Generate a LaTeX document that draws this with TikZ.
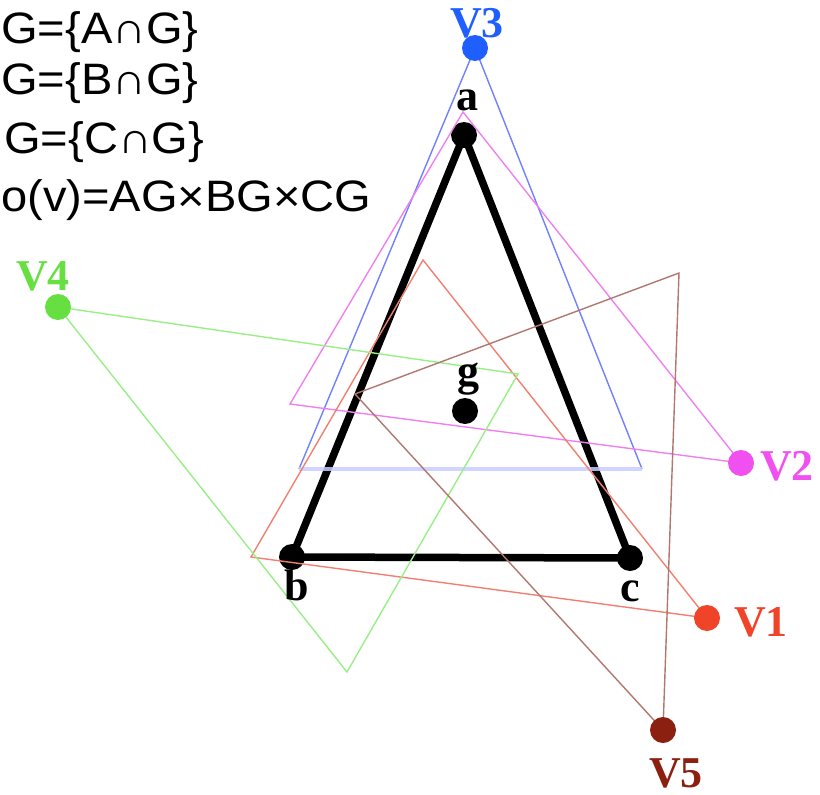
\documentclass[tikz,border=0pt]{standalone}
\usepackage{fontspec}
\setmainfont{Liberation Serif}
\newfontfamily\labsans{Liberation Sans}
\definecolor{vblue}{HTML}{1F5FFF}
\definecolor{lblue}{HTML}{7080FF}
\definecolor{pblue}{HTML}{C8CCFF}
\definecolor{vmag}{HTML}{F050F0}
\definecolor{lmag}{HTML}{F080F0}
\definecolor{vred}{HTML}{F04428}
\definecolor{lred}{HTML}{F08070}
\definecolor{vgreen}{HTML}{66E040}
\definecolor{lgreen}{HTML}{99EE88}
\definecolor{vbrown}{HTML}{8C2010}
\definecolor{lbrown}{HTML}{B07870}
\begin{document}
\begin{tikzpicture}[x=1pt,y=-1pt,
  dot/.style={circle,fill,inner sep=0pt,minimum size=26pt},
  lab/.style={font=\fontsize{44}{44}\selectfont\bfseries,inner sep=0pt,anchor=base},
  formula/.style={font=\labsans\fontsize{44}{44}\selectfont,inner sep=0pt,anchor=base west,xscale=1.07},
  thinline/.style={line width=1.4pt}]
\useasboundingbox (0,0) rectangle (820,795);
% coordinates
\coordinate (a) at (464,135);
\coordinate (b) at (292,557);
\coordinate (c) at (630,558);
\coordinate (g) at (465,411);
\coordinate (v3) at (475,48);
\coordinate (bl) at (299,469);
\coordinate (br) at (642,469);
\coordinate (m1) at (463,112);
\coordinate (m2) at (290,404);
\coordinate (v2) at (741,463);
\coordinate (r1) at (423,260);
\coordinate (r2) at (251,557);
\coordinate (v1) at (707,618);
\coordinate (v4) at (58,307);
\coordinate (g1) at (518,374);
\coordinate (g2) at (347,672);
\coordinate (n1) at (679,273);
\coordinate (n2) at (355,394);
\coordinate (v5) at (663,730);
% black triangle
\draw[line width=7.5pt] (a) -- (b) -- (c) -- cycle;
\node[dot,fill=black] (da) at (a) {};
\node[dot,fill=black] (db) at (b) {};
\node[dot,fill=black] (dc) at (c) {};
\node[dot,fill=black] (dg) at (g) {};
% coloured triangles
\draw[thinline,lblue] (br) -- (v3) -- (bl);
\draw[line width=4.5pt,pblue,opacity=0.85] (bl) -- (br);
\draw[thinline,lmag] (m1) -- (m2) -- (v2) -- cycle;
\draw[thinline,lred] (r1) -- (r2) -- (v1) -- cycle;
\draw[thinline,lgreen] (v4) -- (g1) -- (g2) -- cycle;
\draw[thinline,lbrown] (n1) -- (n2) -- (v5) -- cycle;
% coloured dots
\node[dot,fill=vblue] (dv3) at (v3) {};
\node[dot,fill=vmag] (dv2) at (v2) {};
\node[dot,fill=vred] (dv1) at (v1) {};
\node[dot,fill=vgreen] (dv4) at (v4) {};
\node[dot,fill=vbrown] (dv5) at (v5) {};
% labels
\node[lab] (la) at (467,110) {a};
\node[lab] (lb) at (297,600) {b};
\node[lab] (lc) at (630,601) {c};
\node[lab] (lg) at (468,385) {g};
\node[lab,vblue] (lv3) at (477,37) {V3};
\node[lab,vmag] (lv2) at (787,480) {V2};
\node[lab,vred] (lv1) at (761,636) {V1};
\node[lab,vgreen] (lv4) at (43,290) {V4};
\node[lab,vbrown] (lv5) at (676,787) {V5};
% formulas
\node[formula] (t1) at (1,43) {G=\{A∩G\}};
\node[formula] (t2) at (1,94) {G=\{B∩G\}};
\node[formula] (t3) at (4,153) {G=\{C∩G\}};
\node[formula] (t4) at (1,211) {o(v)=AG×BG×CG};
\end{tikzpicture}
\end{document}
